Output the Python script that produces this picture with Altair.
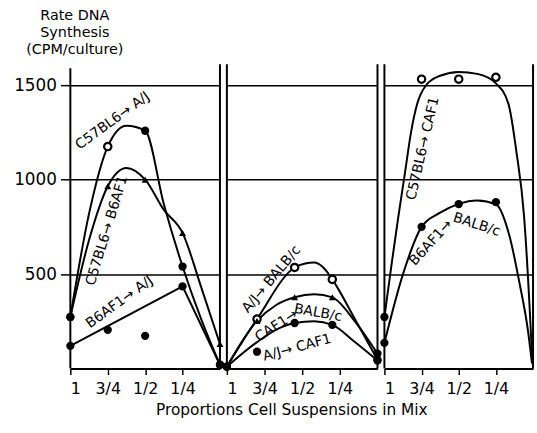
import altair as alt
import pandas as pd

FONT = "DejaVu Sans"

# ---------------- axis text ----------------
tick_values = [1, 0.75, 0.5, 0.25]
tick_labels = ["1", "3/4", "1/2", "1/4"]
y_ticks = [500, 1000, 1500]
y_title = ["Rate DNA", "Synthesis", "(CPM/culture)"]
x_title = "Proportions Cell Suspensions in Mix"

# ---------------- left panel ----------------
p1_x = [1, 0.75, 0.5, 0.25, 0]
p1_c57_aj = [273, 1175, 1259, 540, 20]
p1_c57_aj_marker = ["filled", "open", "filled", "filled", "filled"]
p1_c57_b6 = [273, 965, 1000, 718, 130]
p1_c57_b6_marker = ["filled", "triangle", "triangle", "triangle", "triangle"]
p1_b6_aj = [120, 205, 173, 435, 20]
p1_b6_aj_marker = ["filled", "filled", "filled", "filled", "filled"]
p1_curve_x = [1, 0.875, 0.75, 0.625, 0.5, 0.375, 0.25, 0.125, 0]
p1_c57_aj_curve = [273, 820, 1175, 1285, 1259, 870, 540, 260, 20]
p1_c57_b6_curve = [273, 680, 965, 1062, 1000, 840, 718, 430, 130]
p1_b6_aj_line_x = [1, 0.25, 0]
p1_b6_aj_line = [120, 435, 20]
p1_labels = ["C57BL6→ A/J", "C57BL6→ B6AF1", "B6AF1→ A/J"]
p1_label_x = [0.717, 0.755, 0.671]
p1_label_y = [1311, 730, 351]
p1_label_angle = [324, 287, 324]

# ---------------- middle panel ----------------
p2_x = [1, 0.8, 0.55, 0.3, 0]
p2_aj_balb = [10, 262, 535, 472, 47]
p2_aj_balb_marker = ["filled", "open", "open", "open", "filled"]
p2_caf_balb = [10, 252, 377, 377, 79]
p2_caf_balb_marker = ["filled", "triangle", "triangle", "triangle", "filled"]
p2_aj_caf = [10, 89, 241, 231, 42]
p2_aj_caf_marker = ["filled", "filled", "filled", "filled", "filled"]
p2_aj_balb_curve_x = [1, 0.8, 0.55, 0.48, 0.42, 0.36, 0.3, 0.15, 0]
p2_aj_balb_curve = [10, 262, 535, 556, 561, 535, 472, 262, 47]
p2_curve_x = [1, 0.8, 0.675, 0.55, 0.42, 0.3, 0.15, 0]
p2_caf_balb_curve = [10, 252, 335, 377, 393, 377, 250, 79]
p2_aj_caf_curve = [10, 140, 205, 241, 250, 231, 140, 42]
p2_labels = ["A/J→ BALB/c", "CAF1→", "BALB/c", "A/J→ CAF1"]
p2_label_x = [0.704, 0.671, 0.395, 0.533]
p2_label_y = [472, 226, 294, 110]
p2_label_angle = [310, 327, 10, 345]

# ---------------- right panel ----------------
p3_x = [1, 0.75, 0.5, 0.25]
p3_c57_caf = [273, 1532, 1532, 1542]
p3_c57_caf_marker = ["filled", "open", "open", "open"]
p3_b6_balb = [136, 750, 871, 881]
p3_b6_balb_marker = ["filled", "filled", "filled", "filled"]
p3_c57_caf_curve_x = [1, 0.954, 0.907, 0.861, 0.821, 0.78, 0.72, 0.625, 0.5, 0.375, 0.25, 0.165, 0.113, 0.06, 0.02, 0.005]
p3_c57_caf_curve = [273, 540, 800, 1040, 1250, 1400, 1500, 1550, 1570, 1560, 1510, 1400, 1154, 803, 278, 37]
p3_b6_balb_curve_x = [1, 0.875, 0.75, 0.625, 0.5, 0.375, 0.25, 0.158, 0.092, 0.033, 0.007]
p3_b6_balb_curve = [136, 500, 750, 825, 872, 890, 870, 700, 456, 194, 26]
p3_labels = ["C57BL6→ CAF1", "B6AF1→", "BALB/c"]
p3_label_x = [0.74, 0.687, 0.38]
p3_label_y = [1165, 666, 761]
p3_label_angle = [283, 312, 18]


def points(series, xs, ys, marks):
    return pd.DataFrame({"series": series, "x": xs, "y": ys, "marker": marks})


def curve(series, xs, ys, kind):
    return pd.DataFrame({"series": series, "x": xs, "y": ys, "i": list(range(len(xs))), "kind": kind})


def labels(texts, xs, ys, angles):
    return pd.DataFrame({"text": texts, "x": xs, "y": ys, "angle": angles})


label_expr = " : ".join(
    f"datum.value == {v} ? '{t}'" for v, t in zip(tick_values[:-1], tick_labels[:-1])
) + f" : '{tick_labels[-1]}'"

H = 305


def make_panel(pts, crv, lbl, width, idx):
    xa = dict(
        values=tick_values, labelExpr=label_expr, grid=False,
        domainColor="black", domainWidth=2, tickColor="black", tickWidth=1.5, tickSize=6,
        labelFont=FONT, labelFontSize=16, labelColor="black", labelPadding=6,
        title=None,
    )
    if idx == 1:
        xa.update(title=x_title, titleFont=FONT, titleFontSize=15.5, titleFontWeight="normal",
                  titleColor="black", titleX=65, titleY=46, titleAlign="center",
                  titleBaseline="alphabetic")
    ya = dict(values=y_ticks, grid=True, gridColor="black", gridWidth=1.5, gridOpacity=1,
              domain=False, format="d")
    if idx == 0:
        ya.update(ticks=True, tickColor="black", tickWidth=1.5, tickSize=10,
                  labelFont=FONT, labelFontSize=17, labelColor="black", labelPadding=4,
                  title=y_title, titleAngle=0, titleAlign="center", titleBaseline="top",
                  titleX=4, titleY=-58, titleFont=FONT, titleFontSize=14.5,
                  titleFontWeight="normal", titleLineHeight=17, titleColor="black")
    else:
        ya.update(labels=False, ticks=False, title=None)

    X = alt.X("x:Q", scale=alt.Scale(domain=[0, 1], reverse=True, nice=False, zero=False),
              axis=alt.Axis(**xa))
    Y = alt.Y("y:Q", scale=alt.Scale(domain=[0, 1600], nice=False), axis=alt.Axis(**ya))

    smooth = alt.Chart(crv).transform_filter("datum.kind == 'smooth'").mark_line(
        color="black", strokeWidth=2, interpolate="monotone"
    ).encode(x=X, y=Y, detail="series:N", order="i:Q")
    straight = alt.Chart(crv).transform_filter("datum.kind == 'straight'").mark_line(
        color="black", strokeWidth=2
    ).encode(x=X, y=Y, detail="series:N", order="i:Q")
    filled = alt.Chart(pts).transform_filter("datum.marker == 'filled'").mark_point(
        shape="circle", filled=True, color="black", size=70, opacity=1
    ).encode(x=X, y=Y)
    opened = alt.Chart(pts).transform_filter("datum.marker == 'open'").mark_point(
        shape="circle", filled=True, fill="white", stroke="black", strokeWidth=2.2, size=55, opacity=1
    ).encode(x=X, y=Y)
    tri = alt.Chart(pts).transform_filter("datum.marker == 'triangle'").mark_point(
        shape="triangle-up", filled=True, color="black", size=50, opacity=1
    ).encode(x=X, y=Y)
    txt = alt.Chart(lbl).mark_text(
        font=FONT, fontSize=14, color="black", align="center", baseline="middle"
    ).encode(x=X, y=Y, text="text:N", angle=alt.Angle("angle:Q", scale=None))
    frame = alt.Data(values=[{"side": 0}])
    left_b = alt.Chart(frame).mark_rule(color="black", strokeWidth=2).encode(
        x=alt.value(0), y=alt.value(-2 if idx else 2), y2=alt.value(H))
    right_b = alt.Chart(frame).mark_rule(color="black", strokeWidth=2).encode(
        x=alt.value(width), y=alt.value(-2), y2=alt.value(H))
    return alt.layer(smooth, straight, txt, left_b, right_b, filled, opened, tri).properties(
        width=width, height=H)


pts1 = pd.concat([
    points("C57BL6→A/J", p1_x, p1_c57_aj, p1_c57_aj_marker),
    points("C57BL6→B6AF1", p1_x, p1_c57_b6, p1_c57_b6_marker),
    points("B6AF1→A/J", p1_x, p1_b6_aj, p1_b6_aj_marker),
])
crv1 = pd.concat([
    curve("C57BL6→A/J", p1_curve_x, p1_c57_aj_curve, "smooth"),
    curve("C57BL6→B6AF1", p1_curve_x, p1_c57_b6_curve, "smooth"),
    curve("B6AF1→A/J", p1_b6_aj_line_x, p1_b6_aj_line, "straight"),
])
pts2 = pd.concat([
    points("A/J→BALB/c", p2_x, p2_aj_balb, p2_aj_balb_marker),
    points("CAF1→BALB/c", p2_x, p2_caf_balb, p2_caf_balb_marker),
    points("A/J→CAF1", p2_x, p2_aj_caf, p2_aj_caf_marker),
])
crv2 = pd.concat([
    curve("A/J→BALB/c", p2_aj_balb_curve_x, p2_aj_balb_curve, "smooth"),
    curve("CAF1→BALB/c", p2_curve_x, p2_caf_balb_curve, "smooth"),
    curve("A/J→CAF1", p2_curve_x, p2_aj_caf_curve, "smooth"),
])
pts3 = pd.concat([
    points("C57BL6→CAF1", p3_x, p3_c57_caf, p3_c57_caf_marker),
    points("B6AF1→BALB/c", p3_x, p3_b6_balb, p3_b6_balb_marker),
])
crv3 = pd.concat([
    curve("C57BL6→CAF1", p3_c57_caf_curve_x, p3_c57_caf_curve, "smooth"),
    curve("B6AF1→BALB/c", p3_b6_balb_curve_x, p3_b6_balb_curve, "smooth"),
])

panel1 = make_panel(pts1, crv1, labels(p1_labels, p1_label_x, p1_label_y, p1_label_angle), 151, 0)
panel2 = make_panel(pts2, crv2, labels(p2_labels, p2_label_x, p2_label_y, p2_label_angle), 152, 1)
panel3 = make_panel(pts3, crv3, labels(p3_labels, p3_label_x, p3_label_y, p3_label_angle), 150, 2)

chart = alt.hconcat(panel1, panel2, panel3, spacing=7, bounds="flush").properties(
    padding={"left": 13, "top": 6, "right": 0, "bottom": 0},
    background="white",
).configure_view(stroke=None)

chart.save("out.html", embed_options={"renderer": "svg", "actions": False})
